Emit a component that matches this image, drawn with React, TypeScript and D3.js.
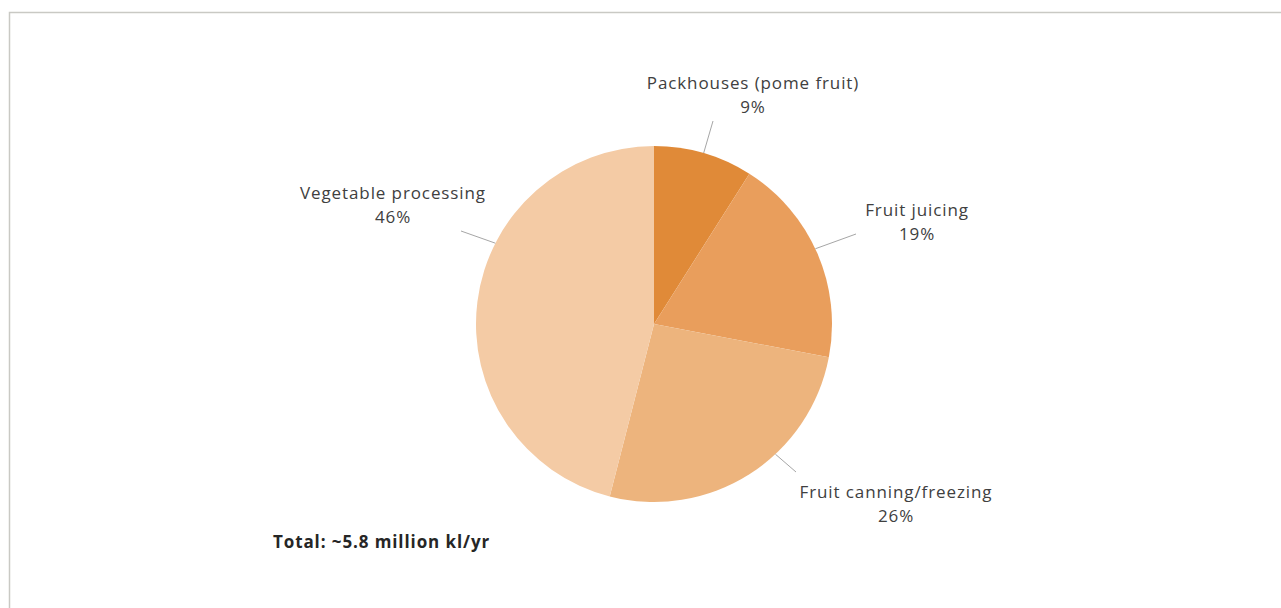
import React from "react";
import * as d3 from "d3";

const categories = ["Packhouses (pome fruit)", "Fruit juicing", "Fruit canning/freezing", "Vegetable processing"];
const values = [9, 19, 26, 46];
const colors = ["#E08A38", "#E99E5C", "#EDB47D", "#F4CBA5"];
const totalLabel = "Total: ~5.8 million kl/yr";

// label layout: leader anchor angle on arc (deg), leader end, label centre & first baseline
const leaderAngles = [16.2, 65, 137, 297];
const leaderEnds: [number, number][] = [[713, 121], [856, 234], [796, 472], [461, 231]];
const labelPos: [number, number][] = [[753, 89], [917, 216], [896, 498], [393, 199]];

const W = 1281, H = 608;
const cx = 654, cy = 324, R = 178;

export default function App() {
  const pie = d3.pie<number>().sort(null).value((d) => d);
  const arcs = pie(values);
  const arc = d3.arc<d3.PieArcDatum<number>>().innerRadius(0).outerRadius(R);
  const total = d3.sum(values);
  const font = "'Open Sans', sans-serif";
  return (
    <svg width={W} height={H} style={{ position: "fixed", left: 0, top: 0, background: "#fff" }}>
      <rect x={9.5} y={12.5} width={W + 20} height={H + 20} fill="#fff" stroke="#c9c9c4" strokeWidth={1.5} />
      <g transform={`translate(${cx},${cy})`}>
        {arcs.map((a, i) => (
          <path key={i} d={arc(a) || ""} fill={colors[i]} />
        ))}
      </g>
      {arcs.map((a, i) => {
        const t = (leaderAngles[i] * Math.PI) / 180;
        const x0 = cx + R * Math.sin(t);
        const y0 = cy - R * Math.cos(t);
        return (
          <line key={"l" + i} x1={x0} y1={y0} x2={leaderEnds[i][0]} y2={leaderEnds[i][1]} stroke="#a6a6a6" strokeWidth={1} />
        );
      })}
      {categories.map((c, i) => (
        <text key={"t" + i} x={labelPos[i][0]} y={labelPos[i][1]} textAnchor="middle" fontFamily={font} fontSize={17} letterSpacing={0.9} fill="#404040">
          <tspan x={labelPos[i][0]}>{c}</tspan>
          <tspan x={labelPos[i][0]} dy={23.5}>{Math.round((values[i] / total) * 100) + "%"}</tspan>
        </text>
      ))}
      <text x={273} y={548} fontFamily={font} fontSize={17} letterSpacing={0.9} fontWeight={700} fill="#262626">{totalLabel}</text>
    </svg>
  );
}
